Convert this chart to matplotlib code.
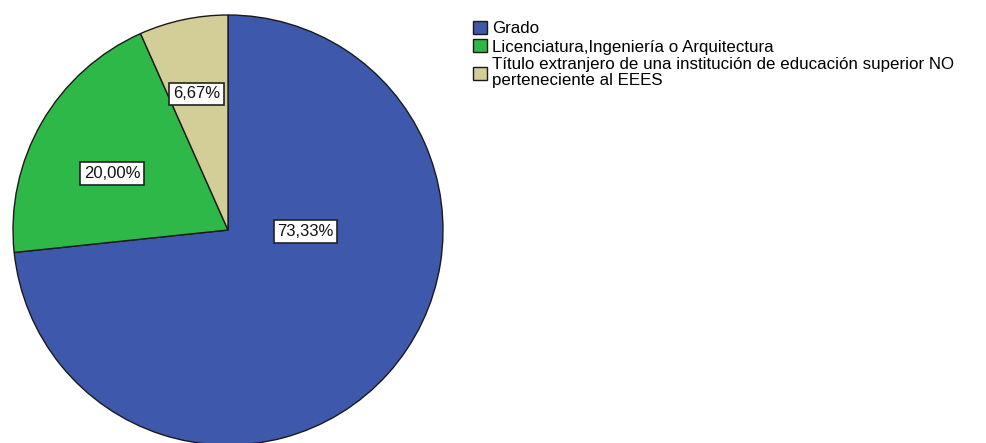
import matplotlib
matplotlib.use('Agg')
import matplotlib.pyplot as plt
import numpy as np

plt.rcParams['font.family'] = ['Liberation Sans', 'DejaVu Sans']

# data: counts per category (11, 3, 1 of 15)
categories = ['Grado',
              'Licenciatura,Ingeniería o Arquitectura',
              'Título extranjero de una institución de educación superior NO\nperteneciente al EEES']
values = [11, 3, 1]
colors = ['#3e58ac', '#2eb848', '#d3ce97']
pct_labels = ['73,33%', '20,00%', '6,67%']

# where SPSS puts each percentage label (angle in deg, distance as fraction of radius)
label_angle = [-1, 154, 103]
label_dist = [0.36, 0.60, 0.65]

fig = plt.figure(figsize=(9.86, 4.43), dpi=100)
W, H = 986, 443
ax = fig.add_axes([13 / W, (H - 445) / H, 430 / W, 430 / H])

wedges, _ = ax.pie(values, colors=colors, startangle=90, counterclock=False,
                   radius=1.0, wedgeprops=dict(edgecolor='#1a1a1a', linewidth=1.0))
ax.set_xlim(-1, 1)
ax.set_ylim(-1, 1)
ax.set_aspect('equal')
ax.axis('off')

for txt, ang, d in zip(pct_labels, label_angle, label_dist):
    a = np.deg2rad(ang)
    ax.text(d * np.cos(a), d * np.sin(a), txt, ha='center', va='center',
            fontsize=12, color='#111111',
            bbox=dict(boxstyle='square,pad=0.22', fc='white', ec='#222222', lw=1.2))

leg = fig.legend(wedges, categories, loc='upper left', bbox_to_anchor=(473 / W, 1 - 21 / H),
                 frameon=False, fontsize=12.2, handlelength=0.8, handleheight=0.8,
                 handletextpad=0.3, labelspacing=0.17, borderpad=0, borderaxespad=0)
for t in leg.get_texts():
    t.set_linespacing(1.08)

fig.savefig('out.png', dpi=100)
